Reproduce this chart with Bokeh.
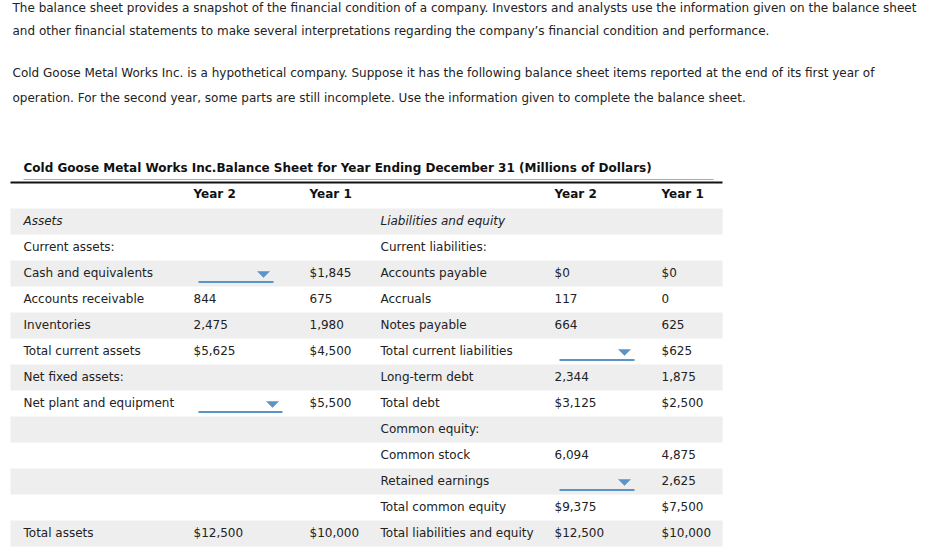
from bokeh.plotting import figure
from bokeh.models import Range1d, ColumnDataSource
from bokeh.core.properties import value
from bokeh.embed import file_html
from bokeh.resources import INLINE

# ---------------- data ----------------
intro_lines = [
    "The balance sheet provides a snapshot of the financial condition of a company. Investors and analysts use the information given on the balance sheet",
    "and other financial statements to make several interpretations regarding the company\u2019s financial condition and performance.",
    "Cold Goose Metal Works Inc. is a hypothetical company. Suppose it has the following balance sheet items reported at the end of its first year of",
    "operation. For the second year, some parts are still incomplete. Use the information given to complete the balance sheet.",
]
title = "Cold Goose Metal Works Inc.Balance Sheet for Year Ending December 31 (Millions of Dollars)"
headers = ["Year 2", "Year 1", "Year 2", "Year 1"]

DROP = None  # dropdown (blank to be filled)
left_labels = ["Assets", "Current assets:", "Cash and equivalents", "Accounts receivable", "Inventories",
               "Total current assets", "Net fixed assets:", "Net plant and equipment", "", "", "", "", "Total assets"]
left_y2 = ["", "", DROP, "844", "2,475", "$5,625", "", DROP, "", "", "", "", "$12,500"]
left_y1 = ["", "", "$1,845", "675", "1,980", "$4,500", "", "$5,500", "", "", "", "", "$10,000"]
right_labels = ["Liabilities and equity", "Current liabilities:", "Accounts payable", "Accruals", "Notes payable",
                "Total current liabilities", "Long-term debt", "Total debt", "Common equity:", "Common stock",
                "Retained earnings", "Total common equity", "Total liabilities and equity"]
right_y2 = ["", "", "$0", "117", "664", DROP, "2,344", "$3,125", "", "6,094", DROP, "$9,375", "$12,500"]
right_y1 = ["", "", "$0", "0", "625", "$625", "1,875", "$2,500", "", "4,875", "2,625", "$7,500", "$10,000"]
italic_rows = [0]

# ---------------- layout ----------------
W, H = 920, 552
FONT = value("DejaVu Sans")
TXT = "#222222"
BLUE = "#5b95c7"

col_x = [23, 193, 309, 380, 554, 661]
table_l, table_r = 10, 722
row_top0 = 208
pitch = 26

p = figure(width=W, height=H, output_backend="svg", toolbar_location=None,
           x_range=Range1d(0, W), y_range=Range1d(H, 0), min_border=0)
p.axis.visible = False
p.grid.visible = False
p.outline_line_color = None
p.background_fill_color = "white"
p.border_fill_color = "white"

# intro paragraph
intro_y = [7, 30, 72, 97]
p.text(x=[12] * len(intro_lines), y=intro_y, text=intro_lines, text_font=FONT,
       text_font_size="12px", text_color=TXT, text_baseline="middle", text_align="left")

# striped rows
n = len(left_labels)
tops = [row_top0 + i * pitch for i in range(n)]
gray = [i for i in range(n) if i % 2 == 0]
p.quad(left=table_l, right=table_r, top=[tops[i] for i in gray], bottom=[tops[i] + pitch for i in gray],
       fill_color="#eeeeee", line_color=None)

# title + rules
p.text(x=[col_x[0]], y=[167.5], text=[title], text_font=FONT, text_font_size="12px",
       text_font_style="bold", text_color="#111111", text_baseline="middle")
p.segment(x0=[col_x[0]], x1=[713], y0=[179], y1=[179], line_color="#aaaaaa", line_width=1)
p.segment(x0=[table_l], x1=[table_r], y0=[182], y1=[182], line_color="#111111", line_width=2)

# headers
p.text(x=col_x[1:3] + col_x[4:6], y=[193.5] * 4, text=headers, text_font=FONT, text_font_size="12px",
       text_font_style="bold", text_color="#111111", text_baseline="middle")

# cells
cols = [left_labels, left_y2, left_y1, right_labels, right_y2, right_y1]
xs, ys, ts, styles = [], [], [], []
drops = []
for c, col in enumerate(cols):
    for i, v in enumerate(col):
        cy = tops[i] + pitch / 2 - 1
        if v is None:
            drops.append((c, i))
            continue
        if v == "":
            continue
        xs.append(col_x[c]); ys.append(cy); ts.append(v)
        styles.append("italic" if (i in italic_rows and c in (0, 3)) else "normal")
src = ColumnDataSource(dict(x=xs, y=ys, text=ts, style=styles))
p.text(x="x", y="y", text="text", source=src, text_font=FONT, text_font_size="12px",
       text_font_style="style", text_color=TXT, text_baseline="middle")

# dropdown widgets
for c, i in drops:
    x0 = col_x[c] + 5
    width = 84 if (c == 1 and i == 7) else 75
    x1 = x0 + width
    ly = tops[i] + 21.5
    p.segment(x0=[x0], x1=[x1], y0=[ly], y1=[ly], line_color=BLUE, line_width=2)
    tx = x1 - 10
    ty = tops[i] + 11
    p.patch(x=[tx - 6, tx + 6, tx], y=[ty, ty, ty + 6], fill_color=BLUE, line_color=BLUE, line_width=0.5)

open("out.html", "w").write(file_html(p, INLINE))
